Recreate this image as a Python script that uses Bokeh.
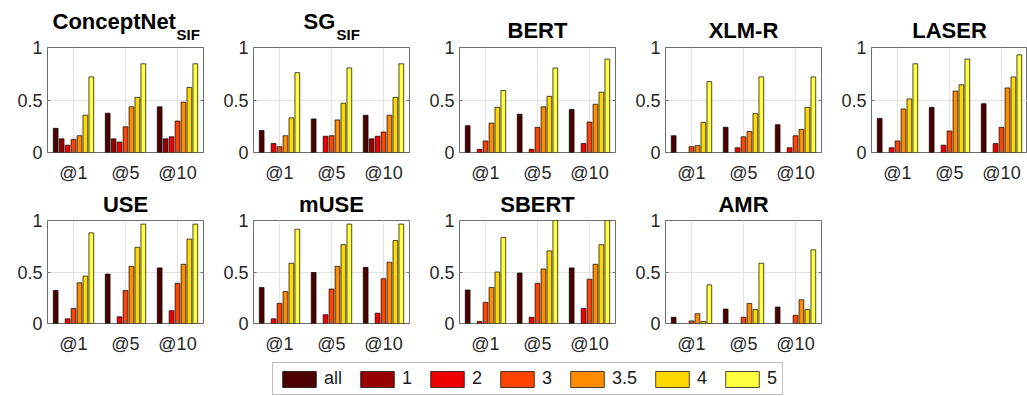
from bokeh.plotting import figure
from bokeh.models import (Range1d, FixedTicker, LinearAxis, Title, Legend, LegendItem)
from bokeh.layouts import row, column
from bokeh.core.properties import value
from bokeh.embed import file_html
from bokeh.resources import INLINE

# ---------------- data ----------------
K_LABELS = ["@1", "@5", "@10"]
SCORE_LABELS = ["all", "1", "2", "3", "3.5", "4", "5"]
COLORS = ["#4c0000", "#990000", "#ee0000", "#ff4400", "#ff8c00", "#ffd800", "#ffff40"]

# rows: @1, @5, @10 ; columns: all, 1, 2, 3, 3.5, 4, 5
CONCEPTNET = [[0.23, 0.13, 0.07, 0.125, 0.16, 0.355, 0.72],
              [0.375, 0.13, 0.10, 0.245, 0.435, 0.525, 0.845],
              [0.435, 0.13, 0.15, 0.30, 0.48, 0.62, 0.845]]
SG = [[0.21, 0, 0.085, 0.055, 0.16, 0.33, 0.76],
      [0.32, 0, 0.155, 0.16, 0.31, 0.47, 0.805],
      [0.355, 0.13, 0.155, 0.195, 0.355, 0.525, 0.845]]
BERT = [[0.255, 0, 0.03, 0.11, 0.28, 0.43, 0.59],
        [0.365, 0, 0.03, 0.24, 0.435, 0.535, 0.805],
        [0.41, 0, 0.085, 0.29, 0.46, 0.575, 0.89]]
XLMR = [[0.16, 0, 0, 0.055, 0.065, 0.285, 0.675],
        [0.24, 0, 0.045, 0.15, 0.20, 0.37, 0.72],
        [0.265, 0, 0.045, 0.16, 0.22, 0.43, 0.72]]
LASER = [[0.325, 0, 0.045, 0.11, 0.415, 0.51, 0.845],
         [0.43, 0, 0.07, 0.205, 0.585, 0.645, 0.89],
         [0.465, 0, 0.085, 0.24, 0.615, 0.72, 0.93]]
USE = [[0.32, 0, 0.045, 0.145, 0.395, 0.46, 0.88],
       [0.48, 0, 0.065, 0.32, 0.555, 0.74, 0.965],
       [0.54, 0, 0.125, 0.39, 0.575, 0.82, 0.965]]
MUSE = [[0.35, 0, 0.045, 0.195, 0.31, 0.585, 0.915],
        [0.495, 0, 0.085, 0.335, 0.555, 0.765, 0.965],
        [0.545, 0, 0.10, 0.435, 0.595, 0.805, 0.965]]
SBERT = [[0.325, 0, 0.02, 0.205, 0.35, 0.50, 0.835],
         [0.49, 0, 0.06, 0.39, 0.53, 0.705, 1.0],
         [0.54, 0, 0.145, 0.43, 0.575, 0.765, 1.0]]
AMR = [[0.06, 0, 0, 0.025, 0.095, 0.02, 0.375],
       [0.14, 0, 0, 0.06, 0.195, 0.135, 0.585],
       [0.16, 0, 0, 0.08, 0.23, 0.135, 0.715]]

TITLES = [("ConceptNet", "SIF"), ("SG", "SIF"), ("BERT", None), ("XLM-R", None), ("LASER", None),
          ("USE", None), ("mUSE", None), ("SBERT", None), ("AMR", None)]
PANEL_DATA = [CONCEPTNET, SG, BERT, XLMR, LASER, USE, MUSE, SBERT, AMR]
Y_TICKS = [0, 0.5, 1]
Y_TICK_LABELS = ["0", "0.5", "1"]

# ---------------- style ----------------
FONT = "Liberation Sans"
TICK_COLOR = "#262626"
AXIS_COLOR = "#6e6e6e"
GRID_COLOR = "#e3e3e3"
TITLE_SIZE = 22
SUB_SIZE = 15
FRAME_W = 156
LEFT_B = 47
RIGHT_B = 3
# per row: (top border, frame height, bottom border, title standoff)
ROW_GEOM = [(47, 106, 32, 10), (34, 107, 30, 8)]

# Arial/Liberation Bold advance widths (per em) for centring composite titles
BOLD_W = {"C": .722, "o": .611, "n": .611, "c": .556, "e": .556, "p": .611, "t": .333,
          "N": .722, "S": .667, "G": .778, "I": .278, "F": .611}


def text_w(s, size):
    return sum(BOLD_W.get(ch, .6) for ch in s) * size


def make_panel(title, sub, vals, geom, last):
    top_b, frame_h, bot_b, t_stand = geom
    nk = len(K_LABELS)
    rb = 0 if last else RIGHT_B
    p = figure(x_range=Range1d(0.5, nk + 0.5), y_range=Range1d(0, 1),
               width=LEFT_B + FRAME_W + rb, height=top_b + frame_h + bot_b,
               min_border_left=LEFT_B, min_border_right=rb,
               min_border_top=top_b, min_border_bottom=bot_b,
               output_backend="svg", toolbar_location=None, title=None)
    p.background_fill_color = "white"
    p.border_fill_color = "white"
    p.outline_line_color = AXIS_COLOR
    p.outline_line_width = 1

    ns = len(SCORE_LABELS)
    slot = 0.8 / ns
    for j in range(ns):
        xs, tops = [], []
        for i in range(nk):
            v = vals[i][j]
            if v > 0:
                xs.append(i + 1 + (j - (ns - 1) / 2) * slot)
                tops.append(v)
        p.vbar(x=xs, top=tops, bottom=0, width=slot * 0.8,
               fill_color=COLORS[j], line_color="black", line_width=0.7)

    xt = list(range(1, nk + 1))
    p.xaxis.ticker = FixedTicker(ticks=xt)
    p.xaxis.major_label_overrides = {t: K_LABELS[t - 1] for t in xt}
    p.yaxis.ticker = FixedTicker(ticks=Y_TICKS)
    p.yaxis.major_label_overrides = {t: lab for t, lab in zip(Y_TICKS, Y_TICK_LABELS)}
    for ax in (p.xaxis, p.yaxis):
        ax.axis_line_color = None
        ax.major_tick_in = 3
        ax.major_tick_out = 0
        ax.minor_tick_in = 0
        ax.minor_tick_out = 0
        ax.major_tick_line_color = AXIS_COLOR
        ax.major_label_text_font = FONT
        ax.major_label_text_font_size = "18px"
        ax.major_label_text_color = TICK_COLOR
    p.xaxis.major_label_standoff = 10
    p.yaxis.major_label_standoff = 5

    if not last:
        rax = LinearAxis(ticker=FixedTicker(ticks=Y_TICKS), axis_line_color=None,
                         major_tick_in=3, major_tick_out=0, minor_tick_in=0, minor_tick_out=0,
                         major_tick_line_color=AXIS_COLOR, major_label_text_color=None,
                         major_label_text_font_size="1px", major_label_standoff=0)
        p.add_layout(rax, "right")

    p.xgrid.ticker = FixedTicker(ticks=xt)
    p.ygrid.ticker = FixedTicker(ticks=Y_TICKS)
    p.grid.grid_line_color = GRID_COLOR

    if sub is None:
        p.add_layout(Title(text=title, align="center", text_font=FONT, text_font_style="bold",
                           text_font_size=f"{TITLE_SIZE}px", text_color="black",
                           standoff=t_stand), "above")
    else:
        wm = text_w(title, TITLE_SIZE)
        ws = text_w(sub, SUB_SIZE)
        start = FRAME_W / 2 - (wm + ws) / 2
        p.add_layout(Title(text=sub, align="left", offset=int(round(start + wm + 1)), text_font=FONT,
                           text_font_style="bold", text_font_size=f"{SUB_SIZE}px",
                           text_color="black", standoff=9), "above")
        p.add_layout(Title(text=title, align="left", offset=int(round(start)), text_font=FONT,
                           text_font_style="bold", text_font_size=f"{TITLE_SIZE}px",
                           text_color="black", standoff=-28), "above")
    return p


figs = []
for idx, ((t, s), d) in enumerate(zip(TITLES, PANEL_DATA)):
    figs.append(make_panel(t, s, d, ROW_GEOM[idx // 5], (idx % 5) == 4))

# legend figure
lg = figure(width=800, height=39, x_range=Range1d(0, 1), y_range=Range1d(0, 1),
            min_border=0, output_backend="svg", toolbar_location=None)
lg.axis.visible = False
lg.grid.visible = False
lg.outline_line_color = None
items = []
for lab, c in zip(SCORE_LABELS, COLORS):
    rr = lg.vbar(x=[0], top=[float("nan")], width=0.1, fill_color=c, line_color="black", line_width=0.7)
    items.append(LegendItem(label=value(lab), renderers=[rr]))
legend = Legend(items=items, orientation="horizontal", location=(272, 0),
                glyph_width=42, glyph_height=20, label_width=0, label_height=20,
                label_standoff=4, spacing=14,
                padding=5, margin=0, border_line_color="#7f7f7f", border_line_width=1,
                background_fill_color="white", background_fill_alpha=1,
                label_text_font=FONT, label_text_font_size="18px", label_text_color="#1a1a1a")
lg.add_layout(legend, "center")

layout = column(row(*figs[:5]), row(*figs[5:]), lg)
open("out.html", "w").write(file_html(layout, INLINE))
